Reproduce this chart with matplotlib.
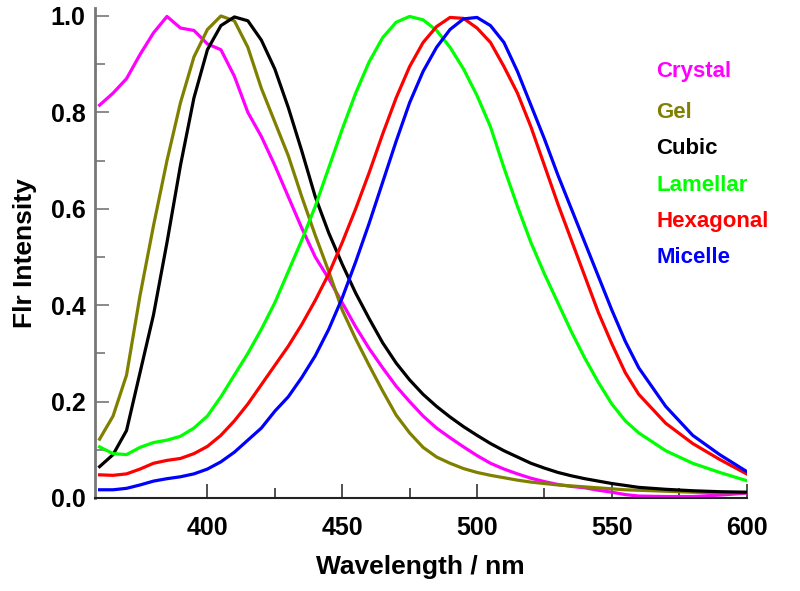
import numpy as np
import matplotlib
matplotlib.use("Agg")
import matplotlib.pyplot as plt
from matplotlib.ticker import FixedLocator

# wavelength grid (nm) shared by all spectra
wavelength = [360, 365, 370, 375, 380, 385, 390, 395, 400, 405, 410, 415, 420,
              425, 430, 435, 440, 445, 450, 455, 460, 465, 470, 475, 480, 485,
              490, 495, 500, 505, 510, 515, 520, 525, 530, 535, 540, 545, 550,
              555, 560, 570, 580, 590, 600]

crystal = [0.815, 0.84, 0.87, 0.92, 0.965, 0.999, 0.975, 0.97, 0.942, 0.93,
           0.875, 0.80, 0.75, 0.69, 0.625, 0.56, 0.50, 0.455, 0.405, 0.355,
           0.31, 0.27, 0.232, 0.2, 0.17, 0.145, 0.125, 0.106, 0.088, 0.072,
           0.06, 0.05, 0.041, 0.034, 0.028, 0.024, 0.021, 0.016, 0.012, 0.007,
           0.004, 0.003, 0.003, 0.006, 0.01]
gel = [0.122, 0.17, 0.255, 0.42, 0.565, 0.70, 0.82, 0.915, 0.972, 1.0, 0.99,
       0.935, 0.85, 0.78, 0.71, 0.625, 0.545, 0.47, 0.39, 0.33, 0.275, 0.222,
       0.172, 0.135, 0.105, 0.085, 0.072, 0.061, 0.053, 0.047, 0.042, 0.037,
       0.033, 0.03, 0.027, 0.025, 0.023, 0.021, 0.019, 0.017, 0.016, 0.014,
       0.012, 0.011, 0.011]
cubic = [0.065, 0.09, 0.14, 0.26, 0.38, 0.53, 0.69, 0.83, 0.93, 0.98, 0.998,
         0.99, 0.95, 0.89, 0.81, 0.72, 0.625, 0.55, 0.485, 0.425, 0.372,
         0.322, 0.28, 0.245, 0.215, 0.19, 0.168, 0.148, 0.13, 0.113, 0.098,
         0.085, 0.072, 0.062, 0.053, 0.046, 0.04, 0.035, 0.03, 0.026, 0.022,
         0.018, 0.015, 0.013, 0.012]
lamellar = [0.106, 0.092, 0.09, 0.105, 0.115, 0.12, 0.128, 0.145, 0.17, 0.21,
            0.255, 0.30, 0.35, 0.405, 0.47, 0.535, 0.605, 0.685, 0.765, 0.84,
            0.905, 0.955, 0.987, 0.999, 0.992, 0.97, 0.935, 0.89, 0.835,
            0.77, 0.685, 0.605, 0.53, 0.465, 0.405, 0.345, 0.29, 0.24, 0.195,
            0.16, 0.135, 0.098, 0.072, 0.053, 0.036]
hexagonal = [0.048, 0.047, 0.05, 0.06, 0.072, 0.078, 0.082, 0.092, 0.107,
             0.13, 0.16, 0.195, 0.235, 0.275, 0.315, 0.36, 0.41, 0.465, 0.53,
             0.6, 0.675, 0.755, 0.83, 0.895, 0.945, 0.978, 0.997, 0.995, 0.975,
             0.945, 0.895, 0.84, 0.77, 0.69, 0.61, 0.535, 0.46, 0.385, 0.32,
             0.26, 0.215, 0.155, 0.113, 0.08, 0.05]
micelle = [0.017, 0.017, 0.02, 0.027, 0.035, 0.04, 0.044, 0.05, 0.06, 0.075,
           0.095, 0.12, 0.145, 0.18, 0.21, 0.25, 0.295, 0.35, 0.415, 0.49,
           0.57, 0.655, 0.74, 0.82, 0.885, 0.935, 0.972, 0.994, 0.997, 0.98,
           0.945, 0.885, 0.815, 0.745, 0.67, 0.6, 0.53, 0.46, 0.39, 0.325,
           0.27, 0.19, 0.13, 0.09, 0.055]

series = [("Crystal", crystal, "#ff00ff"),
          ("Gel", gel, "#808000"),
          ("Cubic", cubic, "#000000"),
          ("Lamellar", lamellar, "#00ff00"),
          ("Hexagonal", hexagonal, "#ff0000"),
          ("Micelle", micelle, "#0000ff")]

plt.rcParams['font.family'] = ['Liberation Sans', 'DejaVu Sans']
plt.rcParams['font.weight'] = 'bold'

fig = plt.figure(figsize=(8, 5.91), dpi=100)
ax = fig.add_axes([0.11875, 0.1574, 0.8145, 0.8291])

for name, vals, color in series:
    ax.plot(wavelength, vals, color=color, lw=2.3, solid_joinstyle='round')

ax.set_xlim(358.3, 600)
ax.set_ylim(0, 1.0166)

ax.set_xticks([400, 450, 500, 550, 600])
ax.xaxis.set_minor_locator(FixedLocator([425, 475, 525, 575]))
ax.set_yticks([0.0, 0.2, 0.4, 0.6, 0.8, 1.0])
ax.set_yticklabels(["0.0", "0.2", "0.4", "0.6", "0.8", "1.0"])
ax.yaxis.set_minor_locator(FixedLocator([0.1, 0.3, 0.5, 0.7, 0.9]))

ax.tick_params(axis='both', which='major', direction='in', length=10,
               labelsize=18)
ax.tick_params(axis='both', which='minor', direction='in', length=7)
ax.tick_params(axis='x', which='both', color='#333333', width=1.2, pad=13)
ax.tick_params(axis='y', which='both', color='#777777', width=1.2, pad=7)

for lbl in ax.get_xticklabels() + ax.get_yticklabels():
    lbl.set_fontweight('bold')

ax.spines['top'].set_visible(False)
ax.spines['right'].set_visible(False)
ax.spines['left'].set_color('#777777')
ax.spines['left'].set_linewidth(2)
ax.spines['bottom'].set_color('#222222')
ax.spines['bottom'].set_linewidth(1.5)

ax.set_xlabel("Wavelength / nm", fontsize=19, fontweight='bold', labelpad=11)
ax.set_ylabel("Flr Intensity", fontsize=19, fontweight='bold', labelpad=10)

# coloured labels in place of a legend
label_y = [72, 113, 149, 186, 222, 258]
for (name, vals, color), py in zip(series, label_y):
    ax.text(0.861, (498 - py) / 490, name, color=color, fontsize=16,
            fontweight='bold', va='center', ha='left', transform=ax.transAxes)

fig.savefig("out.png", dpi=100)
